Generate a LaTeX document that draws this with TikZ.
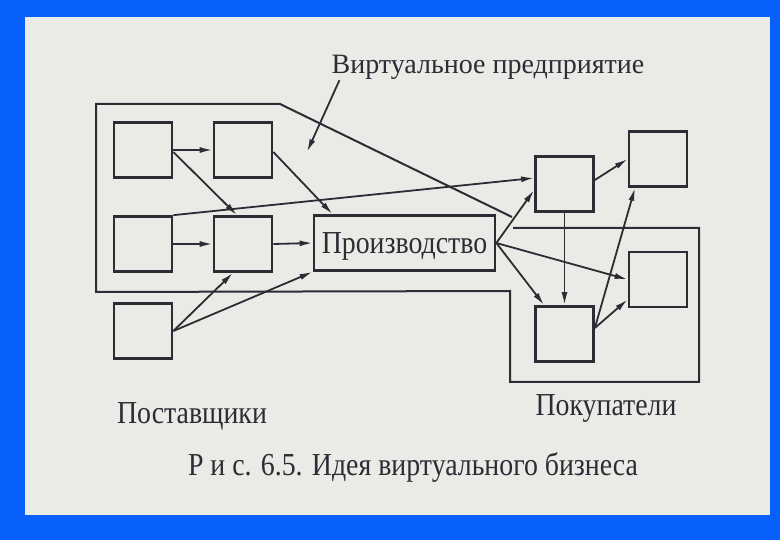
\documentclass[tikz,border=0pt]{standalone}
\usepackage{fontspec}
\setmainfont{Liberation Serif}[FakeStretch=0.87]
\newfontfamily\titlefont{Liberation Serif}
\usetikzlibrary{arrows.meta}
\definecolor{slideblue}{RGB}{8,96,250}
\definecolor{paper}{RGB}{234,234,231}
\definecolor{ink}{RGB}{44,44,52}
\tikzset{
  box/.style={draw=ink,line width=2.7pt,minimum width=58pt,minimum height=55pt,inner sep=0pt},
  link/.style={draw=ink,line width=1.8pt,-{Latex[length=13pt,width=6pt]}},
  outline/.style={draw=ink,line width=2pt},
  txt/.style={text=ink,anchor=base,inner sep=0pt}
}
\begin{document}
\begin{tikzpicture}[x=1pt,y=-1pt]
\fill [slideblue] (0, 0) rectangle (780, 540);
\fill [paper] (25, 17) rectangle (770, 515);

\draw [outline] (513, 228) -- (699, 228) -- (699, 382) -- (510, 382) -- (510, 291) -- (96, 292) -- (96, 104) -- (280, 104) -- (512, 217);

\node (s1) at (143, 150) [box] {};
\node (s2) at (243, 150) [box] {};
\node (s3) at (143, 244) [box] {};
\node (s4) at (243, 244) [box] {};
\node (s5) at (143, 331) [box] {};
\node (prod) at (404.5, 243) [box,minimum width=181pt,text=ink,text depth=0pt,font=\fontsize{32pt}{36pt}\selectfont] {Производство};
\node (c1) at (564.5, 184) [box] {};
\node (c2) at (658, 159) [box] {};
\node (c3) at (658, 279.5) [box] {};
\node (c4) at (564.5, 334) [box] {};

\node (vp) at (488, 74) [txt,font=\titlefont\fontsize{28pt}{32pt}\selectfont] {Виртуальное предприятие};
\coordinate (vpin) at (307, 152);
\draw [link] ([xshift=8pt]vp.south west) -- (vpin);

\draw [link] (s1.east) -- (s2.west);
\draw [link] ([yshift=-2pt]s1.east) -- ([xshift=-6pt]s4.north);
\draw [link] ([yshift=-2pt]s2.east) -- ([xshift=-72pt]prod.north);
\draw [link] (s3.north east) -- ([yshift=6pt]c1.west);
\draw [link] (s3.east) -- (s4.west);
\draw [link] (s4.east) -- (prod.west);
\draw [link] (s5.east) -- ([xshift=-10pt]s4.south);
\draw [link] (s5.east) -- (prod.south west);
\draw [link] (prod.east) -- ([yshift=-6pt]c1.west);
\draw [link] (prod.east) -- (c3.west);
\draw [link] (prod.east) -- ([xshift=10pt]c4.north west);
\draw [link] (c1.south) -- (c4.north);
\draw [link] ([yshift=4pt]c1.east) -- (c2.west);
\draw [link] ([yshift=6pt]c4.east) -- ([xshift=-23pt]c2.south);
\draw [link] ([yshift=6pt]c4.east) -- ([yshift=-20pt]c3.west);

\node (sup) at (192, 423) [txt,font=\fontsize{32pt}{36pt}\selectfont] {Поставщики};
\node (buy) at (606, 415) [txt,font=\fontsize{32pt}{36pt}\selectfont] {Покупатели};
\node (fig) at (413, 475) [txt,font=\fontsize{32pt}{36pt}\selectfont] {Р и с. 6.5. Идея виртуального бизнеса};
\end{tikzpicture}
\end{document}
